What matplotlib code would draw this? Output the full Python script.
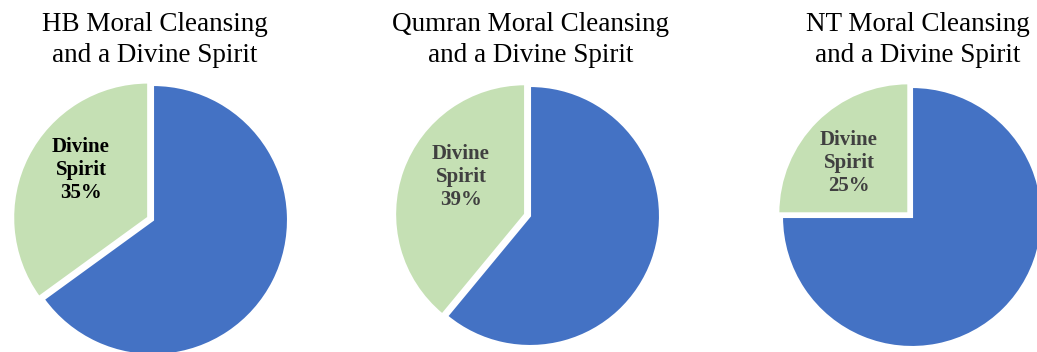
import matplotlib.pyplot as plt

# data
titles = ['HB Moral Cleansing\nand a Divine Spirit',
          'Qumran Moral Cleansing\nand a Divine Spirit',
          'NT Moral Cleansing\nand a Divine Spirit']
spirit_pct = [35, 39, 25]
other_pct = [65, 61, 75]
label_colors = ['#000000', '#404040', '#404040']

# layout in pixels (center x, center y, radius)
W, H = 1037, 352
pies = [(153, 220, 135), (530, 216, 130), (912, 217, 130)]
title_x = [155, 531, 918]
label_xy = [(81, 170), (461, 177), (849, 163)]

plt.rcParams['font.family'] = ['Liberation Serif', 'DejaVu Serif']

fig = plt.figure(figsize=(W / 100, H / 100), dpi=100)

for i in range(3):
    cx, cy, r = pies[i]
    half = r * 1.1
    ax = fig.add_axes([(cx - half) / W, (H - cy - half) / H, 2 * half / W, 2 * half / H])
    vals = [other_pct[i], spirit_pct[i]]
    labels = ['', 'Divine\nSpirit\n%d%%' % spirit_pct[i]]
    wedges, texts = ax.pie(vals, labels=labels, colors=['#4472C4', '#C5E0B4'],
                           startangle=90, counterclock=False, explode=[0, 0.04],
                           labeldistance=0.63,
                           wedgeprops=dict(edgecolor='white', linewidth=1.5))
    lx, ly = label_xy[i]
    texts[1].set_position(((lx - cx) / r, (cy - ly) / r))
    for t in texts:
        t.set_ha('center')
        t.set_va('center')
        t.set_fontsize(15)
        t.set_fontweight('bold')
        t.set_color(label_colors[i])
        t.set_linespacing(1.2)
    ax.set_xlim(-1.1, 1.1)
    ax.set_ylim(-1.1, 1.1)
    ax.set_aspect('equal')
    fig.text(title_x[i] / W, 1 - 12 / H, titles[i], ha='center', va='top',
             fontsize=19.5, linespacing=1.3, color='#000000')

fig.savefig('out.png', dpi=100)
